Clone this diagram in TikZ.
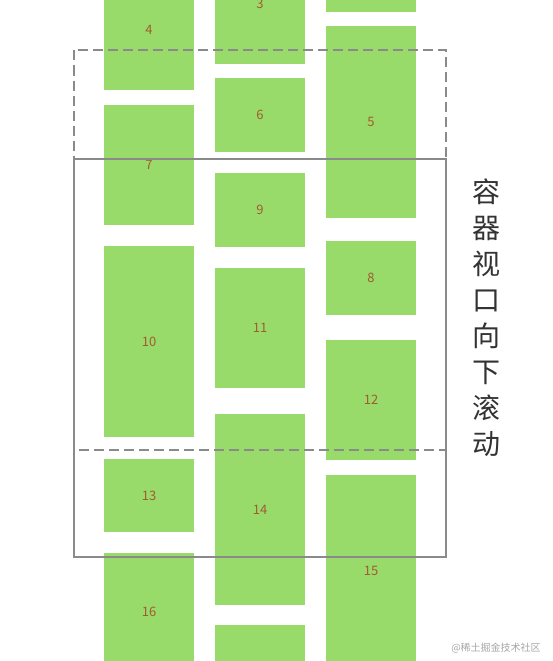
\documentclass[tikz,border=0pt]{standalone}
\usepackage{fontspec}
\newfontfamily\cjk{Noto Sans CJK SC}
\usetikzlibrary{positioning}
\definecolor{wfgreen}{RGB}{152,219,106}
\definecolor{wfnum}{RGB}{160,92,48}
\definecolor{wfframe}{RGB}{138,138,138}
\definecolor{wftext}{RGB}{51,51,51}
\tikzset{
  wf/.style={font=\cjk\fontsize{13}{15}\selectfont, text=wfnum},
  wfbox/.style={
    wf, fill=wfgreen, draw=none, inner sep=0pt, minimum width=90pt,
    minimum height=#1
  },
  wfview/.style={draw=wfframe, line width=2pt},
  wfdash/.style={wfview, dash pattern=on 10pt off 5pt},
  wfside/.style={font=\cjk\fontsize{28}{36}\selectfont, text=wftext, align=center},
  wfmark/.style={font=\cjk\fontsize{10}{12}\selectfont, text=black!35},
}

\begin{document}
\begin{tikzpicture}[x=1pt, y=-1pt]
    \useasboundingbox (0,0) rectangle (552,661);
    \clip (0,0) rectangle (552,661);

    % column 1
    \node[wfbox=120pt] (b4)  at (149,30)    {4};
    \node[wfbox=120pt] (b7)  at (149,165)   {7};
    \node[wfbox=191pt] (b10) at (149,341.5) {10};
    \node[wfbox=73pt]  (b13) at (149,495.5) {13};
    \node[wfbox=118pt] (b16) at (149,612)   {16};

    % column 2
    \node[wfbox=120pt] (b3)  at (260,4)     {3};
    \node[wfbox=74pt]  (b6)  at (260,115)   {6};
    \node[wfbox=74pt]  (b9)  at (260,210)   {9};
    \node[wfbox=120pt] (b11) at (260,328)   {11};
    \node[wfbox=191pt] (b14) at (260,509.5) {14};
    \node[wfbox=120pt] (b17) at (260,685)   {};

    % column 3
    \node[wfbox=120pt] (b2)  at (371,-48)   {};
    \node[wfbox=192pt] (b5)  at (371,122)   {5};
    \node[wfbox=74pt]  (b8)  at (371,278)   {8};
    \node[wfbox=120pt] (b12) at (371,400)   {12};
    \node[wfbox=192pt] (b15) at (371,571)   {15};

    % viewport before and after scrolling
    \draw[wfdash] (73.5,50.5) rectangle (446,450);
    \draw[wfview] (73.5,158.5) rectangle (446,557);

    \node[wfside] (scroll) at (486,318) {容\\器\\视\\口\\向\\下\\滚\\动};
    \node[wfmark] (mark) at (496,648) {@稀土掘金技术社区};
  \end{tikzpicture}
\end{document}
